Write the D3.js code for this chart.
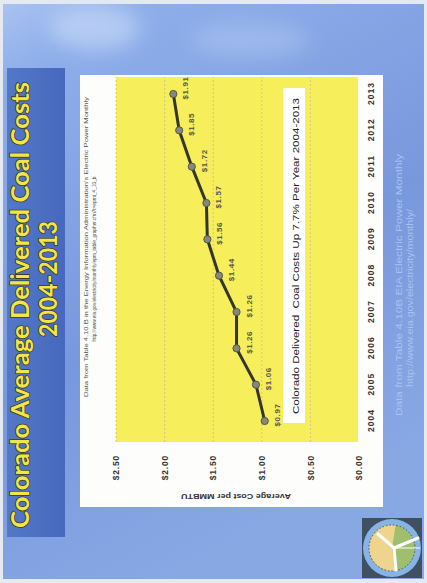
<!DOCTYPE html>
<html>
<head>
<meta charset="utf-8">
<script src="https://cdn.jsdelivr.net/npm/d3@7"></script>
<style>
body { margin: 0; background: #fff; }
svg { display: block; }
</style>
</head>
<body>
<div id="chart"></div>
<script>
// values
const years = [2004, 2005, 2006, 2007, 2008, 2009, 2010, 2011, 2012, 2013];
const costs = [0.97, 1.06, 1.26, 1.26, 1.44, 1.56, 1.57, 1.72, 1.85, 1.91];
const costTicks = [0, 0.5, 1, 1.5, 2, 2.5];

const titleLines = ["Colorado Average Delivered Coal Costs", "2004-2013"];
const noteText = "Colorado Delivered  Coal Costs Up 7.7% Per Year 2004-2013";
const sourceLines = [
    "Data from Table 4.10.B in the Energy Information Administration's Electric Power Monthly",
    "http://www.eia.gov/electricity/monthly/epm_table_grapher.cfm?t=epmt_4_10_b"
];
const footerLines = ["Data from Table 4.10B EIA Electric Power Monthly", "http://www.eia.gov/electricity/monthly/"];

const pageW = 427, pageH = 583;

const svg = d3.select("#chart")
    .append("svg")
    .attr("width", pageW)
    .attr("height", pageH);

const defs = svg.append("defs");
const bg = defs.append("linearGradient")
    .attr("id", "bg")
    .attr("x1", 0).attr("y1", 0).attr("x2", 0.4).attr("y2", 1);
bg.append("stop").attr("offset", "0%").attr("stop-color", "#a9c3f0");
bg.append("stop").attr("offset", "12%").attr("stop-color", "#8eaeea");
bg.append("stop").attr("offset", "60%").attr("stop-color", "#7898dc");
bg.append("stop").attr("offset", "100%").attr("stop-color", "#88a8e4");

const band = defs.append("linearGradient")
    .attr("id", "band")
    .attr("x1", 0).attr("y1", 0).attr("x2", 0).attr("y2", 1);
band.append("stop").attr("offset", "0%").attr("stop-color", "#5378c8");
band.append("stop").attr("offset", "100%").attr("stop-color", "#4668bd");

const blur = defs.append("filter").attr("id", "soft")
    .attr("x", "-50%").attr("y", "-50%").attr("width", "200%").attr("height", "200%");
blur.append("feGaussianBlur").attr("stdDeviation", 10);

// scanned page + slide background (screen coordinates)
svg.append("rect").attr("width", pageW).attr("height", pageH).attr("fill", "#e4e9f2");
svg.append("rect")
    .attr("x", 3).attr("y", 4)
    .attr("width", pageW - 6).attr("height", pageH - 8)
    .attr("fill", "url(#bg)");
svg.append("ellipse")
    .attr("cx", 95).attr("cy", 28).attr("rx", 45).attr("ry", 22)
    .attr("fill", "#d4e2fa").attr("opacity", 0.55)
    .attr("filter", "url(#soft)");
svg.append("ellipse")
    .attr("cx", 250).attr("cy", 40).attr("rx", 60).attr("ry", 18)
    .attr("fill", "#c2d6f6").attr("opacity", 0.35)
    .attr("filter", "url(#soft)");

// the slide is photographed turned a quarter turn: draw it flat, then rotate
const slide = svg.append("g")
    .attr("transform", `translate(0, ${pageH}) rotate(-90)`);

// title band
slide.append("rect")
    .attr("x", 46).attr("y", 7)
    .attr("width", 469).attr("height", 58)
    .attr("fill", "url(#band)");

slide.selectAll(".title")
    .data(titleLines)
    .enter().append("text")
    .attr("class", "title")
    .attr("x", (d, i) => i == 0 ? 278 : 304)
    .attr("y", (d, i) => i == 0 ? 29 : 57)
    .attr("text-anchor", "middle")
    .attr("textLength", (d, i) => i == 0 ? 446 : 116)
    .attr("lengthAdjust", "spacingAndGlyphs")
    .style("font-family", "Lato, 'Open Sans', sans-serif")
    .style("font-weight", "bold")
    .style("font-size", "25px")
    .style("fill", "#f1e548")
    .style("stroke", "#3c3a22")
    .style("stroke-width", 1.6)
    .style("paint-order", "stroke")
    .text(d => d);

// white chart box
slide.append("rect")
    .attr("x", 76).attr("y", 80)
    .attr("width", 432).attr("height", 303)
    .attr("fill", "#fdfdfb");

const plot = {left: 141, right: 506, top: 116, bottom: 358};

slide.append("rect")
    .attr("x", plot.left).attr("y", plot.top)
    .attr("width", plot.right - plot.left)
    .attr("height", plot.bottom - plot.top)
    .attr("fill", "#f6ee5a");

const x = d3.scalePoint()
    .domain(years)
    .range([162, 489]);

const y = d3.scaleLinear()
    .domain([0, 2.5])
    .range([359, 116]);

// gridlines
slide.selectAll(".grid")
    .data(costTicks.filter(d => d > 0))
    .enter().append("line")
    .attr("class", "grid")
    .attr("x1", plot.left).attr("x2", plot.right)
    .attr("y1", d => y(d)).attr("y2", d => y(d))
    .style("stroke", "#b3b293")
    .style("stroke-width", 0.6)
    .style("stroke-dasharray", "2,2");

// axes
const yAxis = slide.append("g")
    .attr("transform", `translate(${plot.left}, 0)`)
    .call(d3.axisLeft(y)
        .tickValues(costTicks)
        .tickFormat(d => "$" + d.toFixed(2))
        .tickSize(0)
        .tickPadding(13));
yAxis.select(".domain").remove();
yAxis.selectAll("text")
    .style("font-family", "'Liberation Sans', Arial, sans-serif")
    .style("font-weight", "bold")
    .style("font-size", "8.5px")
    .style("letter-spacing", "0.8px")
    .style("fill", "#333");

const xAxis = slide.append("g")
    .attr("transform", `translate(0, ${plot.bottom})`)
    .call(d3.axisBottom(x)
        .tickSize(0)
        .tickPadding(10));
xAxis.select(".domain").remove();
xAxis.selectAll("text")
    .style("font-family", "'Liberation Sans', Arial, sans-serif")
    .style("font-weight", "bold")
    .style("font-size", "8.5px")
    .style("letter-spacing", "1px")
    .style("fill", "#333");

slide.append("text")
    .attr("transform", "translate(89, 236) rotate(-90)")
    .attr("text-anchor", "middle")
    .attr("textLength", 110)
    .attr("lengthAdjust", "spacingAndGlyphs")
    .style("font-family", "'Liberation Sans', Arial, sans-serif")
    .style("font-weight", "bold")
    .style("font-size", "8px")
    .style("fill", "#333")
    .text("Average Cost per MMBTU");

// source note above the plot
slide.selectAll(".source")
    .data(sourceLines)
    .enter().append("text")
    .attr("class", "source")
    .attr("x", (d, i) => i == 0 ? 336 : 324)
    .attr("y", (d, i) => i == 0 ? 88 : 96)
    .attr("text-anchor", "middle")
    .attr("textLength", (d, i) => i == 0 ? 300 : 165)
    .attr("lengthAdjust", "spacingAndGlyphs")
    .style("font-family", "'Liberation Sans', Arial, sans-serif")
    .style("font-size", "4.6px")
    .style("fill", "#555")
    .text(d => d);

// annotation box
slide.append("rect")
    .attr("x", 160).attr("y", 283)
    .attr("width", 335).attr("height", 22)
    .attr("fill", "#fff");
slide.append("text")
    .attr("x", 327).attr("y", 298.5)
    .attr("text-anchor", "middle")
    .attr("textLength", 316)
    .attr("lengthAdjust", "spacingAndGlyphs")
    .style("white-space", "pre")
    .style("font-family", "'Liberation Sans', Arial, sans-serif")
    .style("font-size", "9.5px")
    .style("fill", "#222")
    .text(noteText);

// data line
const data = years.map((yr, i) => ({year: yr, cost: costs[i]}));

slide.append("path")
    .datum(data)
    .attr("d", d3.line().x(d => x(d.year)).y(d => y(d.cost)))
    .style("fill", "none")
    .style("stroke", "#35362a")
    .style("stroke-width", 3);

slide.selectAll(".dot")
    .data(data)
    .enter().append("circle")
    .attr("class", "dot")
    .attr("r", 3.6)
    .attr("cx", d => x(d.year))
    .attr("cy", d => y(d.cost))
    .style("fill", "#86887e")
    .style("stroke", "#55564c")
    .style("stroke-width", 1);

slide.selectAll(".lbl")
    .data(data)
    .enter().append("text")
    .attr("class", "lbl")
    .attr("x", d => x(d.year) + 6)
    .attr("y", d => y(d.cost) + 15)
    .attr("text-anchor", "middle")
    .style("font-family", "'Liberation Sans', Arial, sans-serif")
    .style("font-weight", "bold")
    .style("font-size", "8px")
    .style("letter-spacing", "0.6px")
    .style("fill", "#5a5a50")
    .text(d => "$" + d.cost.toFixed(2));

// footer
slide.selectAll(".footer")
    .data(footerLines)
    .enter().append("text")
    .attr("class", "footer")
    .attr("x", (d, i) => i == 0 ? 298 : 285)
    .attr("y", (d, i) => i == 0 ? 402 : 413)
    .attr("text-anchor", "middle")
    .attr("textLength", (d, i) => i == 0 ? 262 : 178)
    .attr("lengthAdjust", "spacingAndGlyphs")
    .style("font-family", "'Liberation Sans', Arial, sans-serif")
    .style("font-size", "9.5px")
    .style("fill", "#a9c2ee")
    .text(d => d);

// logo (screen coordinates)
const logo = svg.append("g").attr("transform", "translate(392, 548)");
logo.append("rect")
    .attr("x", -30).attr("y", -30).attr("width", 60).attr("height", 60)
    .attr("fill", "#3e5062");
logo.append("circle").attr("r", 29).attr("fill", "#86b4e6");
logo.append("circle").attr("r", 23).attr("fill", "#9fbf6e");
logo.append("path")
    .attr("d", d3.arc()({innerRadius: 0, outerRadius: 23, startAngle: Math.PI * 0.95, endAngle: Math.PI * 2.05}))
    .attr("fill", "#efd48e");
logo.append("circle").attr("r", 23)
    .attr("fill", "none")
    .attr("stroke", "#3b3b30")
    .attr("stroke-width", 0.8)
    .attr("stroke-dasharray", "1.5,2");
logo.selectAll(".blade")
    .data([[-14, -14], [26, -10], [4, 22]])
    .enter().append("line")
    .attr("x1", 2).attr("y1", 0)
    .attr("x2", d => d[0]).attr("y2", d => d[1])
    .attr("stroke", "#fff")
    .attr("stroke-width", 3)
    .attr("stroke-linecap", "round");
logo.append("line")
    .attr("x1", 2).attr("y1", 0).attr("x2", 28).attr("y2", 0)
    .attr("stroke", "#fff")
    .attr("stroke-width", 1);
</script>
</body>
</html>
